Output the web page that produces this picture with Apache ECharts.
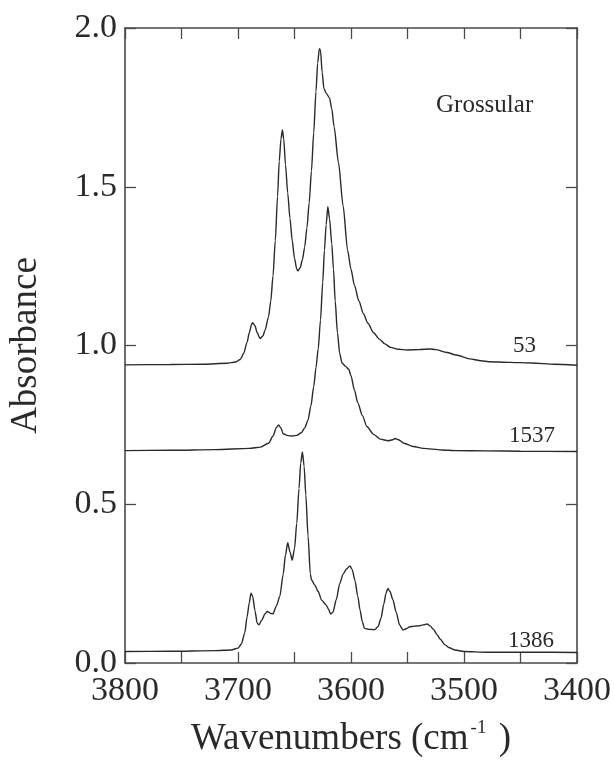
<!DOCTYPE html>
<html>
<head>
<meta charset="utf-8">
<script src="https://cdn.jsdelivr.net/npm/echarts@6/dist/echarts.min.js"></script>
<style>
html,body{margin:0;padding:0;background:#fff;}
#chart{width:614px;height:763px;}
</style>
</head>
<body>
<div id="chart"></div>
<script>
// Sample 53 (top trace): [wavenumber, absorbance]
const sample53 = [
[3800,0.939],[3760,0.940],[3730,0.941],[3710,0.944],[3702,0.948],[3698,0.956],[3695,0.975],
[3692,1.010],[3690,1.040],[3688,1.066],[3687,1.072],[3685,1.062],[3683,1.040],[3680.5,1.022],
[3678,1.030],[3676,1.049],[3673,1.090],[3671,1.140],[3669,1.22],[3667,1.33],[3665,1.47],
[3663.5,1.58],[3662,1.650],[3660.7,1.679],[3659.5,1.65],[3658,1.57],[3656,1.48],[3654,1.40],
[3652,1.33],[3650,1.275],[3648,1.240],[3647,1.235],[3645,1.245],[3643,1.27],[3641,1.31],
[3639,1.37],[3637,1.45],[3635,1.55],[3633,1.67],[3631,1.80],[3629.5,1.89],[3628,1.935],
[3627,1.93],[3625.5,1.86],[3624,1.81],[3622,1.795],[3619,1.78],[3617,1.745],[3615,1.69],
[3611,1.574],[3607,1.44],[3603,1.30],[3600,1.24],[3597,1.19],[3593,1.14],[3589,1.10],
[3585,1.07],[3580,1.04],[3575,1.02],[3570,1.005],[3565,0.994],[3558,0.988],[3550,0.986],
[3540,0.987],[3530,0.989],[3525,0.987],[3515,0.978],[3507,0.970],[3495,0.958],[3485,0.952],
[3478,0.949],[3460,0.947],[3440,0.945],[3420,0.941],[3400,0.938]
];
// Sample 1537 (middle trace)
const sample1537 = [
[3800,0.669],[3760,0.670],[3720,0.672],[3690,0.676],[3680,0.680],[3673,0.692],[3669,0.715],
[3666,0.742],[3664,0.750],[3662,0.740],[3660,0.722],[3656,0.716],[3652,0.715],[3648,0.717],
[3644,0.725],[3641,0.740],[3638,0.765],[3635.5,0.81],[3633,0.87],[3631,0.93],[3629,0.99],
[3627,1.08],[3625,1.20],[3623.5,1.30],[3622,1.38],[3620.5,1.437],[3619,1.40],[3617,1.32],
[3615.5,1.24],[3614,1.14],[3612,1.04],[3610,0.975],[3608,0.945],[3605,0.935],[3602,0.925],
[3600,0.905],[3597,0.86],[3594,0.82],[3590,0.78],[3586,0.745],[3580,0.72],[3574,0.705],
[3567,0.700],[3563,0.703],[3561,0.707],[3558,0.703],[3553,0.692],[3545,0.682],[3536,0.676],
[3520,0.671],[3507,0.669],[3480,0.668],[3450,0.667],[3400,0.666]
];
// Sample 1386 (bottom trace)
const sample1386 = [
[3800,0.036],[3760,0.037],[3720,0.039],[3706,0.041],[3700,0.047],[3697,0.060],[3694,0.095],
[3692,0.145],[3690,0.19],[3688.5,0.22],[3687,0.21],[3685,0.165],[3683,0.125],[3681.5,0.12],
[3679,0.135],[3676,0.155],[3674,0.162],[3671,0.156],[3669,0.155],[3666,0.18],[3663,0.21],
[3660,0.28],[3658,0.34],[3656,0.379],[3654,0.35],[3652,0.324],[3650,0.36],[3648,0.44],
[3646,0.55],[3644.5,0.63],[3643,0.665],[3641.5,0.62],[3640,0.53],[3638,0.40],[3636,0.28],
[3635,0.262],[3632,0.245],[3629,0.225],[3626,0.198],[3622,0.183],[3620,0.17],[3618,0.154],
[3616,0.16],[3613,0.20],[3610,0.25],[3607,0.28],[3604,0.296],[3601,0.306],[3599,0.295],
[3596.5,0.26],[3594,0.21],[3592,0.167],[3590,0.13],[3588,0.109],[3584,0.106],[3579,0.105],
[3576,0.115],[3573.5,0.14],[3571,0.185],[3569,0.22],[3567.3,0.235],[3565.5,0.225],[3563,0.20],
[3560,0.16],[3557,0.12],[3554,0.104],[3551,0.108],[3548,0.114],[3544,0.116],[3540,0.117],
[3536,0.12],[3532.5,0.123],[3530,0.117],[3527,0.106],[3524,0.09],[3521,0.075],[3517,0.058],
[3513,0.048],[3508,0.041],[3500,0.036],[3480,0.034],[3440,0.034],[3400,0.033]
];
const seriesNames = ['53', '1537', '1386'];
const title = 'Grossular';
const xTitle = 'Wavenumbers (cm';
const xTitleSup = '-1';
const xTitleEnd = ' )';
const yTitle = 'Absorbance';

const FONT = '"Liberation Serif", "DejaVu Serif", serif';
const INK = '#2a2a2a';
const FRAME = '#4a4a4a';

const chart = echarts.init(document.getElementById('chart'), null, {renderer: 'canvas'});

const tickStyle = {show: true, inside: true, length: 11, lineStyle: {color: FRAME, width: 1.3}};
const axisLineStyle = {show: true, onZero: false, lineStyle: {color: FRAME, width: 1.6}};

function lineSeries(name, data) {
  return {
    name: name, type: 'line', data: data, showSymbol: false, symbol: 'none',
    smooth: 0.25, smoothMonotone: 'x',
    lineStyle: {color: INK, width: 1.4},
    xAxisIndex: 0, yAxisIndex: 0, silent: true, animation: false
  };
}

chart.setOption({
  animation: false,
  backgroundColor: '#ffffff',
  grid: {left: 123, right: 34, top: 28, bottom: 100, containLabel: false},
  xAxis: [{
    type: 'value', min: 3400, max: 3800, interval: 50, inverse: true, position: 'bottom',
    axisLine: axisLineStyle, axisTick: tickStyle, splitLine: {show: false},
    axisLabel: {
      margin: 11, fontFamily: FONT, fontSize: 34, color: INK,
      formatter: v => (v % 100 === 0 ? String(v) : '')
    },
    name: '{m|' + xTitle + '}{s|' + xTitleSup + '}{m|' + xTitleEnd + '}',
    nameLocation: 'middle', nameGap: 56,
    nameTextStyle: {
      fontFamily: FONT, fontSize: 37, color: INK,
      rich: {
        m: {fontFamily: FONT, fontSize: 37, lineHeight: 40, color: INK},
        s: {fontFamily: FONT, fontSize: 19, lineHeight: 12, verticalAlign: 'top', color: INK, padding: [0, 3, 0, 2]}
      }
    }
  }, {
    type: 'value', min: 3400, max: 3800, interval: 50, inverse: true, position: 'top',
    axisLine: axisLineStyle, axisTick: tickStyle, splitLine: {show: false},
    axisLabel: {show: false}
  }],
  yAxis: [{
    type: 'value', min: 0, max: 2, interval: 0.5, position: 'left',
    axisLine: axisLineStyle, axisTick: tickStyle, splitLine: {show: false},
    axisLabel: {margin: 8, fontFamily: FONT, fontSize: 34, color: INK, formatter: v => v.toFixed(1)},
    name: yTitle, nameLocation: 'middle', nameGap: 80,
    nameTextStyle: {fontFamily: FONT, fontSize: 37, color: INK}
  }, {
    type: 'value', min: 0, max: 2, interval: 0.5, position: 'right',
    axisLine: axisLineStyle, axisTick: tickStyle, splitLine: {show: false},
    axisLabel: {show: false}
  }],
  series: [
    lineSeries(seriesNames[0], sample53),
    lineSeries(seriesNames[1], sample1537),
    lineSeries(seriesNames[2], sample1386)
  ],
  graphic: [
    {type: 'text', left: 436, top: 93, style: {text: title, font: '25px ' + FONT, fill: INK}},
    {type: 'text', left: 513, top: 334, style: {text: seriesNames[0], font: '23px ' + FONT, fill: INK}},
    {type: 'text', left: 509, top: 424, style: {text: seriesNames[1], font: '23px ' + FONT, fill: INK}},
    {type: 'text', left: 508, top: 629, style: {text: seriesNames[2], font: '23px ' + FONT, fill: INK}}
  ]
});
</script>
</body>
</html>
